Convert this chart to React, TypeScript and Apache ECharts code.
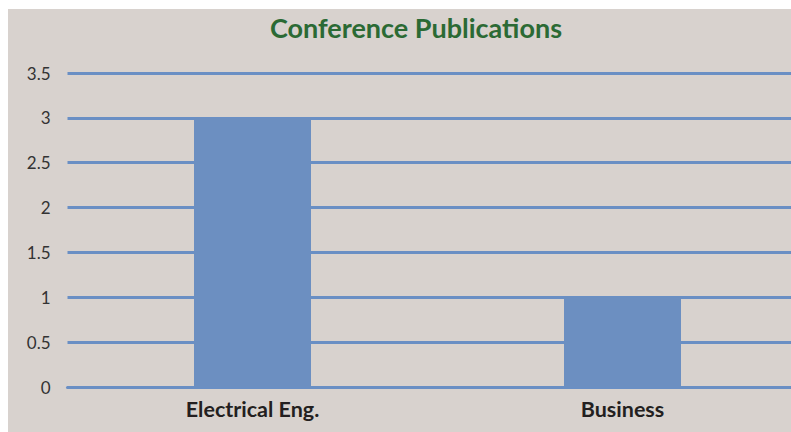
import React, { useEffect, useRef } from "react";
import * as echarts from "echarts";

const categories = ["Electrical Eng.", "Business"];
const publications = [3, 1];
const yTicks = { min: 0, max: 3.5, interval: 0.5 };
const titleText = "Conference Publications";

export default function App() {
  const ref = useRef<HTMLDivElement>(null);
  useEffect(() => {
    if (!ref.current) return;
    const chart = echarts.init(ref.current, undefined, { renderer: "svg" });
    chart.setOption({
      animation: false,
      backgroundColor: "#d8d2ce",
      title: {
        text: titleText,
        left: 403,
        top: 0,
        textAlign: "center",
        textStyle: {
          fontFamily: "Lato",
          fontWeight: "bold",
          fontSize: 27,
          color: "#2b6a34",
        },
      },
      grid: { left: 59.5, top: 64, width: 740, height: 314, containLabel: false },
      xAxis: {
        type: "category",
        data: categories,
        axisTick: { show: false },
        axisLine: { show: true, lineStyle: { color: "#6a8fc4", width: 3 } },
        axisLabel: {
          margin: 11,
          fontFamily: "Lato",
          fontWeight: "bold",
          fontSize: 21.5,
          color: "#231f20",
        },
      },
      yAxis: {
        type: "value",
        min: yTicks.min,
        max: yTicks.max,
        interval: yTicks.interval,
        axisLine: { show: false },
        axisTick: { show: false },
        axisLabel: {
          margin: 17,
          fontFamily: "Lato",
          fontSize: 17,
          color: "#333333",
        },
        splitLine: { lineStyle: { color: "#6a8fc4", width: 3 } },
      },
      series: [
        {
          type: "bar",
          data: publications,
          barWidth: 117,
          itemStyle: { color: "#6c8fc1" },
        },
      ],
    });
    return () => chart.dispose();
  }, []);
  return (
    <div style={{ position: "fixed", left: 0, top: 0, width: 791, height: 432, background: "#ffffff", overflow: "hidden" }}>
      <div ref={ref} style={{ position: "absolute", left: 8, top: 9, width: 830, height: 423 }} />
    </div>
  );
}
